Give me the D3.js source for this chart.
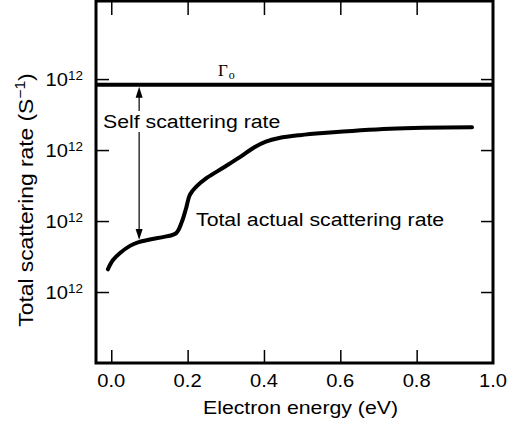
<!DOCTYPE html>
<html>
<head>
<meta charset="utf-8">
<script src="https://cdn.jsdelivr.net/npm/d3@7/dist/d3.min.js"></script>
<style>
  body { margin: 0; background: #fff; }
  text { font-family: "Liberation Sans", Arial, sans-serif; fill: #000; }
</style>
</head>
<body>
<div id="chart"></div>
<script>

// curve (arbitrary units on y, one tick = 1)
var energy = [-0.009, 0.0045, 0.023, 0.049, 0.070, 0.101, 0.141, 0.170, 0.185, 0.196, 0.206, 0.222, 0.251, 0.293, 0.337, 0.375, 0.405, 0.440, 0.494, 0.555, 0.730, 0.945];
var rate   = [1.32, 1.45, 1.55, 1.65, 1.70, 1.74, 1.78, 1.83, 1.99, 2.18, 2.37, 2.48, 2.61, 2.75, 2.90, 3.04, 3.12, 3.17, 3.21, 3.24, 3.30, 3.32];

var gamma0 = 3.92;
var arrowEnergy = 0.073;
var arrowBottom = 1.72;

var xTicks = [0, 0.2, 0.4, 0.6, 0.8, 1.0];
var yTicks = [1, 2, 3, 4];
var yTickBase = "10";
var yTickExp = "12";

var width = 511;
var height = 426;
var pLeft = 96, pRight = 493, pTop = 1, pBottom = 363;
var sx = 1.12; // text in the picture is a bit stretched sideways

var svg = d3.select("#chart")
  .append("svg")
  .attr("width", width)
  .attr("height", height);

var x = d3.scaleLinear().domain([-0.04, 1.0]).range([pLeft, pRight]);
var y = d3.scaleLinear().domain([0, 5.1]).range([pBottom, pTop]);

// stretched text helper
function label(txt, px, py, size, anchor) {
  return svg.append("text")
    .attr("transform", "translate(" + px + "," + py + ") scale(" + sx + ",1)")
    .attr("text-anchor", anchor || "start")
    .style("font-size", size + "px")
    .text(txt);
}

//ticks, all pointing inward
var xAxisB = d3.axisBottom(x).tickValues(xTicks.slice(0, 5)).tickSizeInner(-13).tickSizeOuter(0).tickFormat("");
var xAxisT = d3.axisTop(x).tickValues(xTicks.slice(0, 5)).tickSizeInner(-14).tickSizeOuter(0).tickFormat("");
var yAxisL = d3.axisLeft(y).tickValues(yTicks).tickSizeInner(-13).tickSizeOuter(0).tickFormat("");
var yAxisR = d3.axisRight(y).tickValues(yTicks).tickSizeInner(-12).tickSizeOuter(0).tickFormat("");

svg.append("g").attr("transform", "translate(0," + pBottom + ")").call(xAxisB);
svg.append("g").attr("transform", "translate(0," + pTop + ")").call(xAxisT);
svg.append("g").attr("transform", "translate(" + pLeft + ",0)").call(yAxisL);
svg.append("g").attr("transform", "translate(" + pRight + ",0)").call(yAxisR);
svg.selectAll(".domain").remove();
svg.selectAll(".tick line").attr("stroke", "#000").attr("stroke-width", 1.5);

//frame
svg.append("rect")
  .attr("x", pLeft).attr("y", pTop)
  .attr("width", pRight - pLeft).attr("height", pBottom - pTop)
  .attr("fill", "none")
  .attr("stroke", "#000")
  .attr("stroke-width", 3);

//x tick labels
xTicks.forEach(function (d) {
  label(d.toFixed(1), x(d), 387, 18, "middle");
});

//y tick labels 10^12
yTicks.forEach(function (d) {
  var t = svg.append("text")
    .attr("transform", "translate(83," + (y(d) + 7) + ") scale(" + sx + ",1)")
    .attr("text-anchor", "end")
    .style("font-size", "18px");
  t.append("tspan").text(yTickBase);
  t.append("tspan").attr("dy", -6).style("font-size", "12px").text(yTickExp);
});

//axis titles
label("Electron energy (eV)", (pLeft + pRight) / 2 + 6, 414, 19, "middle");

var yt = svg.append("text")
  .attr("transform", "translate(33,200) rotate(-90) scale(1.2,1.1)")
  .attr("text-anchor", "middle")
  .style("font-size", "19px");
yt.append("tspan").text("Total scattering rate (S");
yt.append("tspan").attr("dy", -7).style("font-size", "13px").text("\u22121");
yt.append("tspan").attr("dy", 7).text(")");

//Gamma_0 line
svg.append("line")
  .attr("x1", pLeft).attr("x2", pRight)
  .attr("y1", y(gamma0)).attr("y2", y(gamma0))
  .attr("stroke", "#000")
  .attr("stroke-width", 4);

var g0 = svg.append("text")
  .attr("x", 218).attr("y", 76)
  .style("font-family", "'Liberation Serif', 'DejaVu Serif', serif")
  .style("font-size", "17px");
g0.append("tspan").text("\u0393");
g0.append("tspan").attr("dy", 3).attr("dx", 1).style("font-size", "12px").text("o");

//actual scattering rate curve
var line = d3.line()
  .x(function (d, i) { return x(energy[i]); })
  .y(function (d) { return y(d); })
  .curve(d3.curveCatmullRom.alpha(0.5));

svg.append("path")
  .datum(rate)
  .attr("d", line)
  .attr("fill", "none")
  .attr("stroke", "#000")
  .attr("stroke-width", 4)
  .attr("stroke-linecap", "round");

//self scattering double arrow
var ax = x(arrowEnergy);
var ay1 = y(gamma0) + 2;
var ay2 = y(arrowBottom) - 1;
svg.append("line")
  .attr("x1", ax).attr("x2", ax)
  .attr("y1", ay1 + 8).attr("y2", ay2 - 8)
  .attr("stroke", "#000")
  .attr("stroke-width", 1.2);
svg.append("path")
  .attr("d", "M" + ax + "," + ay1 + "L" + (ax - 3.5) + "," + (ay1 + 11) + "L" + (ax + 3.5) + "," + (ay1 + 11) + "Z")
  .attr("fill", "#000");
svg.append("path")
  .attr("d", "M" + ax + "," + ay2 + "L" + (ax - 3.5) + "," + (ay2 - 11) + "L" + (ax + 3.5) + "," + (ay2 - 11) + "Z")
  .attr("fill", "#000");

//annotations
label("Self scattering rate", 103, 128, 19)
  .attr("stroke", "#fff")
  .attr("stroke-width", 8)
  .attr("paint-order", "stroke");
label("Total actual scattering rate", 196, 226, 19);

</script>
</body>
</html>
